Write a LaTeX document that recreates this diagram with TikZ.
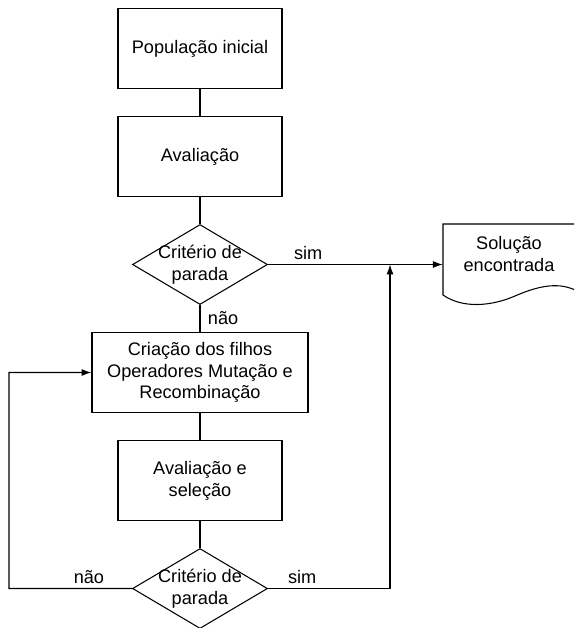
\documentclass[tikz,border=0pt]{standalone}
\usepackage{fontspec}
\setmainfont{Liberation Sans}
\usetikzlibrary{arrows.meta,shapes.geometric}

\begin{document}
\begin{tikzpicture}[x=0.03cm,y=-0.03cm]
\tikzstyle{every node} = [font=\fontsize{15.5}{18.5}\selectfont]
\tikzstyle{caixa} = [draw,rectangle,line width=0.9pt,minimum width=4.92cm,minimum height=2.4cm,align=center,node distance=3.24cm]
\tikzstyle{decisao} = [draw,diamond,line width=0.9pt,minimum width=4.05cm,minimum height=2.4cm,inner sep=0pt,node distance=3.24cm]
\tikzstyle{seta} = [line width=0.9pt,-{Latex[length=8.5pt,width=6pt]}]
\tikzstyle{linha} = [line width=0.9pt]

\clip (0,0) rectangle (574,628);

\node[caixa] (pop) at (200,48.5) {População inicial};
\node[caixa,below of=pop] (aval) {Avaliação};
\node[decisao,below of=aval,label={[align=center]center:Critério de\\parada}] (crit1) {};
\node[caixa,below of=crit1,minimum width=6.48cm] (filhos) {Criação dos filhos\\Operadores Mutação e\\Recombinação};
\node[caixa,below of=filhos] (sel) {Avaliação e\\seleção};
\node[decisao,below of=sel,label={[align=center]center:Critério de\\parada}] (crit2) {};

% documento de saida
\node[align=center,minimum width=3.96cm] (sol) at (509,254) {Solução\\encontrada};
\draw[linha] (577,224) -- (443,224) -- (443,295)
  .. controls (463,309) and (492,306) .. (515,296)
  .. controls (540,285) and (560,282) .. (577,291) -- cycle;

\coordinate (jun) at (390,264.5);
\coordinate (ret) at (9,588.5);

\draw[linha] (pop) -- (aval);
\draw[linha] (aval) -- (crit1);
\draw[seta] (crit1) -- node[above,pos=0.23]{sim} (crit1 -| sol.west);
\draw[linha] (crit1) -- node[right,xshift=3pt]{não} (filhos);
\draw[linha] (filhos) -- (sel);
\draw[linha] (sel) -- (crit2);
\draw[seta] (crit2) -- node[above,pos=0.35]{não} (ret) |- (filhos);
\draw[seta] (crit2) -| node[above,pos=0.14]{sim} (jun);
\end{tikzpicture}
\end{document}
